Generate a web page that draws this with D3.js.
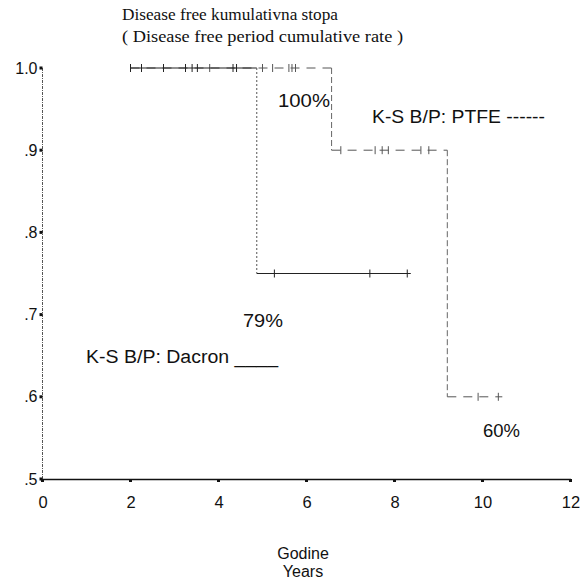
<!DOCTYPE html>
<html>
<head>
<meta charset="utf-8">
<script src="https://cdn.jsdelivr.net/npm/d3@7"></script>
<style>
  html, body { margin: 0; padding: 0; background: #fff; }
  svg { display: block; }
</style>
</head>
<body>
<svg id="chart" width="581" height="581"></svg>
<script>
// ---- Data ----
const xTicks = [0, 2, 4, 6, 8, 10, 12];
const yTicks = [0.5, 0.6, 0.7, 0.8, 0.9, 1.0];
const yTickLabels = [".5", ".6", ".7", ".8", ".9", "1.0"];

// Dacron (solid): step times and survival after each step
const dacronStepT = [2.0, 4.87];
const dacronSurv = [1.0, 0.75];
const dacronEnd = 8.37;
const dacronCensorT = [2.0, 2.25, 2.75, 3.25, 3.4, 3.52, 4.33, 4.41, 5.27, 7.44, 8.29];

// PTFE (dashed)
const ptfeStepT = [2.0, 6.57, 9.2];
const ptfeSurv = [1.0, 0.9, 0.6];
const ptfeEnd = 10.45;
const ptfeCensorT = [3.8, 5.0, 5.23, 5.6, 5.67, 5.75, 6.78, 7.56, 7.72, 7.86, 8.6, 8.78, 9.9, 10.36];

const titleLines = ["Disease free kumulativna stopa", "( Disease free period cumulative rate )"];
const xTitleLines = ["Godine", "Years"];
const annLabels = ["100%", "K-S B/P: PTFE ------", "79%", "K-S B/P: Dacron ____", "60%"];

// ---- Chart ----
const svg = d3.select("#chart");
const x = d3.scaleLinear().domain([0, 12]).range([42.5, 570.5]);
const y = d3.scaleLinear().domain([0.5, 1.0]).range([479, 68]);

const sans = "'Liberation Sans', Arial, sans-serif";
const serif = "'Liberation Serif', 'Times New Roman', serif";

// title
const titleLayout = [{ y: 20, w: 216 }, { y: 42, w: 281 }];
svg.append("g").selectAll("text").data(titleLines).join("text")
  .attr("x", 122).attr("y", (d, i) => titleLayout[i].y)
  .attr("textLength", (d, i) => titleLayout[i].w).attr("lengthAdjust", "spacingAndGlyphs")
  .attr("font-family", serif).attr("font-size", 16).attr("fill", "#111")
  .text(d => d);

// y axis (dotted line) with square ticks
svg.append("line").attr("x1", x(0)).attr("x2", x(0)).attr("y1", y(1.0)).attr("y2", y(0.5))
  .attr("stroke", "#555").attr("stroke-width", 1).attr("stroke-dasharray", "3,1,1,1");
const yAxis = svg.append("g").attr("transform", `translate(${x(0)},0)`)
  .call(d3.axisLeft(y).tickValues(yTicks).tickSize(0).tickPadding(5)
    .tickFormat((d, i) => yTickLabels[i]));
yAxis.select(".domain").remove();
yAxis.selectAll("text").attr("font-family", sans).attr("font-size", 16).attr("fill", "#111");
svg.append("g").selectAll("rect").data(yTicks).join("rect")
  .attr("x", x(0) - 3).attr("y", d => y(d) - 1.5).attr("width", 3).attr("height", 3).attr("fill", "#111");

// x axis
const xAxis = svg.append("g").attr("transform", `translate(0,${y(0.5)})`)
  .call(d3.axisBottom(x).tickValues(xTicks).tickSize(0).tickPadding(17).tickFormat(d3.format("d")));
xAxis.select(".domain").attr("stroke", "#111").attr("stroke-width", 1.5);
xAxis.selectAll("text").attr("font-family", sans).attr("font-size", 16.5).attr("fill", "#111");
svg.append("g").selectAll("rect").data(xTicks).join("rect")
  .attr("x", d => x(d) - 1.5).attr("y", y(0.5)).attr("width", 3).attr("height", 3).attr("fill", "#111");

// x title
svg.append("g").selectAll("text").data(xTitleLines).join("text")
  .attr("x", 303).attr("y", (d, i) => 559 + i * 18).attr("text-anchor", "middle")
  .attr("font-family", sans).attr("font-size", 16).attr("fill", "#111")
  .text(d => d);

// step helpers
function survAt(stepT, surv, t) {
  let s = surv[0];
  for (let i = 0; i < stepT.length; i++) if (t >= stepT[i]) s = surv[i];
  return s;
}
function drawKM(stepT, surv, end, horizStyle, vertStyle) {
  const g = svg.append("g").attr("fill", "none");
  for (let i = 0; i < stepT.length; i++) {
    const t0 = stepT[i];
    const t1 = i + 1 < stepT.length ? stepT[i + 1] : end;
    g.append("line").attr("x1", x(t0)).attr("x2", x(t1)).attr("y1", y(surv[i])).attr("y2", y(surv[i]))
      .attr("stroke", horizStyle.color).attr("stroke-width", horizStyle.width)
      .attr("stroke-dasharray", horizStyle.dash);
    if (i + 1 < stepT.length) {
      g.append("line").attr("x1", x(t1)).attr("x2", x(t1)).attr("y1", y(surv[i])).attr("y2", y(surv[i + 1]))
        .attr("stroke", vertStyle.color).attr("stroke-width", vertStyle.width)
        .attr("stroke-dasharray", vertStyle.dash);
    }
  }
  return g;
}
function drawCensors(stepT, surv, times, color) {
  svg.append("g").selectAll("line").data(times).join("line")
    .attr("x1", d => x(d)).attr("x2", d => x(d))
    .attr("y1", d => y(survAt(stepT, surv, d)) - 4)
    .attr("y2", d => y(survAt(stepT, surv, d)) + 4)
    .attr("stroke", color).attr("stroke-width", 1);
}

// PTFE dashed
drawKM(ptfeStepT, ptfeSurv, ptfeEnd,
  { color: "#555", width: 1, dash: "9,7" },
  { color: "#666", width: 1, dash: "6,3" });
drawCensors(ptfeStepT, ptfeSurv, ptfeCensorT, "#555");

// Dacron solid
drawKM(dacronStepT, dacronSurv, dacronEnd,
  { color: "#222", width: 1.1, dash: null },
  { color: "#555", width: 1, dash: "2,2" });
drawCensors(dacronStepT, dacronSurv, dacronCensorT, "#222");

// annotations
const annLayout = [
  { x: 278, y: 107, w: 52 },
  { x: 372, y: 123, w: 173 },
  { x: 243, y: 327, w: 40 },
  { x: 86, y: 363, w: 192 },
  { x: 483, y: 437, w: 37 }
];
svg.append("g").selectAll("text").data(annLabels).join("text")
  .attr("x", (d, i) => annLayout[i].x).attr("y", (d, i) => annLayout[i].y)
  .attr("textLength", (d, i) => annLayout[i].w).attr("lengthAdjust", "spacingAndGlyphs")
  .attr("font-family", sans).attr("font-size", 18).attr("fill", "#111")
  .text(d => d);
</script>
</body>
</html>
